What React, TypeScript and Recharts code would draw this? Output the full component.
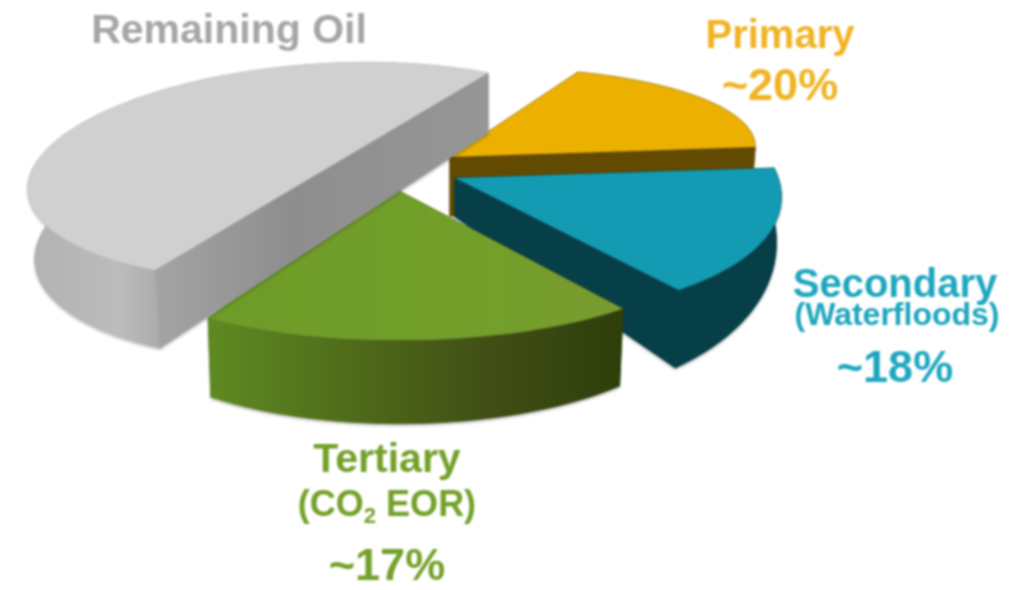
import React from "react";
import { PieChart, Pie, Cell } from "recharts";

// Remaining Oil has no printed number; the picture draws it as a half disc, so 55 against 55 for the rest
const sliceNames = ["Primary", "Secondary", "Tertiary", "Remaining Oil"];
const sliceValues = [20, 18, 17, 55];

const WIDTH = 1009;
const HEIGHT = 590;
const CX = 400;
const CY = 200;
const RADIUS = 100;

const data = sliceNames.map((name, i) => ({ name, value: sliceValues[i] }));

// how each flat slice is laid over into the fake 3D view: explode offset, unit circle axes, wall depth
const sliceViews = [
  { dx: 50, dy: -43, ux: 300.2, uy: -26, vx: -54.2, vy: -85.6, bulge: 0, depth: 59, depthK: 0, shrink: 0.985, shift: 0 },
  { dx: 55, dy: -22, ux: 301.4, uy: -34.7, vx: -125.4, vy: -132.6, bulge: 0, depth: 39, depthK: 0.35, shrink: 0.985, shift: 0 },
  { dx: -8, dy: -13, ux: 437.6, uy: -27.7, vx: -82, vy: -140.5, bulge: 0.07, depth: 53, depthK: 0.2, shrink: 0.985, shift: 0 },
  { dx: -78.5, dy: -28.5, ux: 293.8, uy: -18, vx: -2.5, vy: -107.7, bulge: 0, depth: 69, depthK: 0.09, shrink: 0.985, shift: 2.5 },
];

const topFills = ["#ebb000", "#129bb3", "url(#greenTop)", "#d0d0d0"];
const rimFills = ["#624a00", "#063f47", "url(#greenRim)", "url(#greyRim)"];
const faceFills = ["#624a00", "#063f47", "url(#greenRim)", "url(#greyFace)"];

const SANS = "'Liberation Sans', Arial, sans-serif";

type Pt = { x: number; y: number };

const toPath = (pts: Pt[]) =>
  pts.map((p, i) => `${i ? "L" : "M"}${p.x.toFixed(1)} ${p.y.toFixed(1)}`).join(" ") + " Z";

function Slice(props: any) {
  const { cx, cy, outerRadius, startAngle, endAngle, name } = props;
  const i = sliceNames.indexOf(name);
  const v = sliceViews[i];
  const ox = cx + v.dx;
  const oy = cy + v.dy;

  const project = (deg: number, t: number): Pt => {
    const a = (deg * Math.PI) / 180;
    const k = (outerRadius / RADIUS) * (1 + v.bulge * 4 * t * (1 - t));
    return {
      x: ox + k * (v.ux * Math.cos(a) + v.vx * Math.sin(a)),
      y: oy + k * (v.uy * Math.cos(a) + v.vy * Math.sin(a)),
    };
  };
  const drop = (p: Pt): Pt => ({
    x: ox + v.shift + (p.x - ox) * v.shrink,
    y: p.y + v.depth + v.depthK * (p.y - oy),
  });

  const arc: Pt[] = [];
  const steps = 60;
  for (let s = 0; s <= steps; s++) {
    const t = s / steps;
    arc.push(project(startAngle + (endAngle - startAngle) * t, t));
  }
  const apex = { x: ox, y: oy };
  const first = arc[0];
  const last = arc[arc.length - 1];

  const face = (a: Pt, b: Pt) => toPath([a, b, drop(b), drop(a)]);
  const rim = toPath([...arc, ...arc.map(drop).reverse()]);
  const faces = [
    { d: face(apex, first), front: first.x < apex.x },
    { d: face(last, apex), front: last.x > apex.x },
  ];
  const backFaces = faces.filter((f) => !f.front).map((f) => f.d).join(" ");
  const frontFaces = faces.filter((f) => f.front).map((f) => f.d).join(" ");

  return (
    <g style={{ filter: "drop-shadow(0 2px 1px rgba(0,0,0,0.22))" }}>
      {backFaces && <path d={backFaces} fill={rimFills[i]} stroke={rimFills[i]} strokeWidth={0.8} />}
      <path d={rim} fill={rimFills[i]} stroke={rimFills[i]} strokeWidth={0.8} />
      {frontFaces && <path d={frontFaces} fill={faceFills[i]} stroke={faceFills[i]} strokeWidth={0.8} />}
      <path d={toPath([apex, ...arc])} fill={topFills[i]} />
    </g>
  );
}

export default function App() {
  return (
    <div style={{ position: "absolute", left: 0, top: 0, width: WIDTH, height: HEIGHT, filter: "blur(1px)" }}>
      <PieChart width={WIDTH} height={HEIGHT} margin={{ top: 0, right: 0, bottom: 0, left: 0 }}>
        <defs>
          <linearGradient id="greenTop" gradientUnits="userSpaceOnUse" x1="208" y1="0" x2="622" y2="0">
            <stop offset="0" stopColor="#6e9c28" />
            <stop offset="0.7" stopColor="#739f2a" />
            <stop offset="1" stopColor="#7a9a30" />
          </linearGradient>
          <linearGradient id="greenRim" gradientUnits="userSpaceOnUse" x1="208" y1="0" x2="622" y2="0">
            <stop offset="0" stopColor="#5f8a22" />
            <stop offset="0.35" stopColor="#4f6b1a" />
            <stop offset="0.7" stopColor="#404d15" />
            <stop offset="1" stopColor="#2e3f0b" />
          </linearGradient>
          <linearGradient id="greyRim" gradientUnits="userSpaceOnUse" x1="28" y1="0" x2="160" y2="0">
            <stop offset="0" stopColor="#b2b2b2" />
            <stop offset="0.7" stopColor="#bcbcbc" />
            <stop offset="1" stopColor="#ababab" />
          </linearGradient>
          <linearGradient id="greyFace" gradientUnits="userSpaceOnUse" x1="155" y1="0" x2="488" y2="0">
            <stop offset="0" stopColor="#a4a4a4" />
            <stop offset="0.4" stopColor="#8e8e8e" />
            <stop offset="1" stopColor="#969696" />
          </linearGradient>
        </defs>
        <Pie
          data={data}
          dataKey="value"
          nameKey="name"
          cx={CX}
          cy={CY}
          outerRadius={RADIUS}
          startAngle={55}
          endAngle={-305}
          stroke="none"
          shape={Slice}
          isAnimationActive={false}
        >
          {data.map((d) => (
            <Cell key={d.name} />
          ))}
        </Pie>
        <g fontFamily={SANS} fontWeight="bold" textAnchor="middle">
          <text x={229} y={43} fontSize={41} fill="#a6a6a6">Remaining Oil</text>
          <text x={780} y={48} fontSize={40} fill="#f0b323">Primary</text>
          <text x={780} y={100} fontSize={45} fill="#f0b323">~20%</text>
          <text x={895} y={297} fontSize={40} fill="#1fa6bf">Secondary</text>
          <text x={897} y={325} fontSize={32} fill="#1fa6bf">(Waterfloods)</text>
          <text x={895} y={382} fontSize={45} fill="#1fa6bf">~18%</text>
          <text x={387} y={472} fontSize={41} fill="#74a02a">Tertiary</text>
          <text x={387} y={516} fontSize={36} fill="#74a02a">
            (CO<tspan fontSize={22} dy={7}>2</tspan>
            <tspan dy={-7}> EOR)</tspan>
          </text>
          <text x={387} y={580} fontSize={45} fill="#74a02a">~17%</text>
        </g>
      </PieChart>
    </div>
  );
}
